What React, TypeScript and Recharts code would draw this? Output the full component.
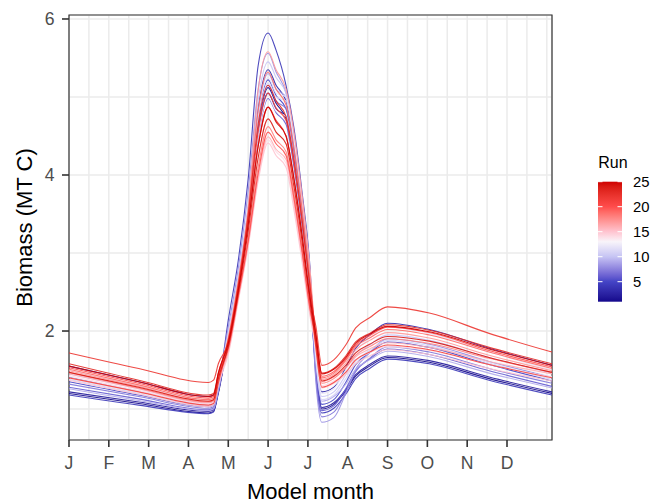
import React from 'react';
import { LineChart, Line, XAxis, YAxis, CartesianGrid, ReferenceArea, Label } from 'recharts';

// model month positions of the sampled points (0 = start of January)
const monthPos = [0, 1.75, 3.5, 3.63, 3.75, 4.0, 4.25, 4.5, 4.75, 5.0, 5.2, 5.45, 5.65, 5.85, 6.05, 6.2, 6.35, 6.65, 6.95, 7.2, 7.55, 8.0, 9.05, 10.55, 12.13];
const monthLabels = ['J', 'F', 'M', 'A', 'M', 'J', 'J', 'A', 'S', 'O', 'N', 'D'];
const xGridTicks = [0, 0.5, 1, 1.5, 2, 2.5, 3, 3.5, 4, 4.5, 5, 5.5, 6, 6.5, 7, 7.5, 8, 8.5, 9, 9.5, 10, 10.5, 11, 11.5, 12];
const yGridTicks = [1, 2, 3, 4, 5, 6];
const yLabelTicks = [2, 4, 6];
const legendTicks = [5, 10, 15, 20, 25];
const xDomain = [0, 12.13];
const yDomain = [0.603, 6.051];

// biomass per run (MT C)
const run01 = [1.20, 1.07, 0.95, 0.97, 1.20, 1.90, 2.60, 3.50, 4.62, 5.12, 4.92, 4.72, 4.17, 3.43, 2.57, 1.50, 1.00, 1.06, 1.23, 1.42, 1.55, 1.66, 1.60, 1.39, 1.20];
const run02 = [1.22, 1.09, 0.97, 0.99, 1.22, 1.90, 2.60, 3.50, 4.55, 5.05, 4.85, 4.75, 4.20, 3.45, 2.59, 1.52, 1.02, 1.08, 1.25, 1.44, 1.57, 1.68, 1.62, 1.41, 1.22];
const run03 = [1.55, 1.35, 1.16, 1.18, 1.41, 1.92, 2.62, 3.55, 4.85, 5.35, 5.15, 4.95, 4.40, 3.62, 2.71, 1.72, 1.22, 1.28, 1.53, 1.78, 1.95, 2.10, 2.02, 1.78, 1.56];
const run04 = [1.18, 1.05, 0.94, 0.96, 1.25, 2.14, 2.90, 3.95, 5.40, 5.82, 5.60, 5.15, 4.60, 3.79, 2.83, 1.45, 0.95, 1.01, 1.19, 1.39, 1.52, 1.64, 1.58, 1.37, 1.18];
const run05 = [1.35, 1.18, 1.03, 1.05, 1.28, 1.95, 2.65, 3.55, 4.72, 5.22, 5.02, 4.85, 4.30, 3.54, 2.65, 1.56, 1.06, 1.12, 1.34, 1.57, 1.72, 1.86, 1.79, 1.57, 1.36];
const run06 = [1.28, 1.13, 0.99, 1.01, 1.24, 1.88, 2.58, 3.45, 4.48, 4.98, 4.80, 4.65, 4.10, 3.37, 2.53, 1.48, 0.98, 1.04, 1.26, 1.49, 1.64, 1.77, 1.70, 1.49, 1.29];
const run07 = [1.32, 1.16, 1.01, 1.03, 1.26, 1.92, 2.62, 3.52, 4.65, 5.15, 4.95, 4.85, 4.30, 3.54, 2.65, 1.40, 0.90, 0.96, 1.22, 1.48, 1.65, 1.80, 1.73, 1.52, 1.33];
const run08 = [1.41, 1.23, 1.06, 1.08, 1.33, 2.05, 2.80, 3.80, 5.10, 5.56, 5.32, 5.05, 4.50, 3.71, 2.77, 1.35, 0.83, 0.89, 1.20, 1.51, 1.72, 1.90, 1.83, 1.61, 1.41];
const run09 = [1.26, 1.11, 0.98, 1.00, 1.23, 1.95, 2.66, 3.58, 4.80, 5.30, 5.10, 5.00, 4.45, 3.67, 2.74, 1.60, 1.10, 1.16, 1.32, 1.51, 1.63, 1.74, 1.67, 1.46, 1.27];
const run10 = [1.45, 1.26, 1.08, 1.10, 1.33, 1.98, 2.70, 3.62, 4.95, 5.45, 5.25, 5.05, 4.50, 3.71, 2.77, 1.66, 1.16, 1.22, 1.44, 1.67, 1.82, 1.95, 1.88, 1.66, 1.46];
const run11 = [1.38, 1.20, 1.04, 1.06, 1.29, 1.92, 2.62, 3.52, 4.68, 5.18, 5.00, 4.95, 4.40, 3.62, 2.71, 1.62, 1.12, 1.18, 1.39, 1.61, 1.75, 1.88, 1.81, 1.59, 1.38];
const run12 = [1.50, 1.30, 1.12, 1.14, 1.37, 1.95, 2.64, 3.55, 4.75, 5.25, 5.05, 5.00, 4.45, 3.67, 2.74, 1.70, 1.20, 1.26, 1.50, 1.74, 1.91, 2.05, 1.97, 1.73, 1.50];
const run13 = [1.42, 1.23, 1.06, 1.08, 1.33, 1.88, 2.58, 3.45, 4.50, 5.00, 4.82, 4.75, 4.20, 3.45, 2.59, 1.74, 1.24, 1.30, 1.48, 1.68, 1.80, 1.92, 1.85, 1.63, 1.42];
const run14 = [1.43, 1.24, 1.07, 1.09, 1.35, 1.72, 2.40, 3.10, 3.95, 4.45, 4.30, 4.15, 3.60, 2.94, 2.23, 1.80, 1.30, 1.36, 1.48, 1.62, 1.72, 1.80, 1.75, 1.57, 1.41];
const run15 = [1.37, 1.19, 1.03, 1.05, 1.31, 1.70, 2.38, 3.08, 3.92, 4.41, 4.25, 4.10, 3.55, 2.90, 2.20, 1.77, 1.27, 1.33, 1.44, 1.58, 1.68, 1.76, 1.70, 1.52, 1.36];
const run16 = [1.45, 1.26, 1.08, 1.10, 1.36, 1.74, 2.42, 3.12, 3.98, 4.49, 4.33, 4.20, 3.65, 2.99, 2.26, 1.85, 1.35, 1.41, 1.53, 1.67, 1.77, 1.85, 1.79, 1.61, 1.45];
const run17 = [1.49, 1.29, 1.10, 1.12, 1.40, 1.92, 2.64, 3.58, 5.08, 5.58, 5.35, 5.10, 4.55, 3.75, 2.80, 1.88, 1.38, 1.44, 1.59, 1.76, 1.88, 1.98, 1.91, 1.69, 1.49];
const run18 = [1.47, 1.27, 1.09, 1.11, 1.38, 1.76, 2.45, 3.18, 4.10, 4.62, 4.45, 4.30, 3.75, 3.07, 2.32, 1.83, 1.33, 1.39, 1.53, 1.69, 1.80, 1.90, 1.84, 1.65, 1.47];
const run19 = [1.51, 1.31, 1.12, 1.14, 1.42, 1.90, 2.62, 3.52, 4.82, 5.32, 5.10, 4.90, 4.35, 3.58, 2.68, 1.90, 1.40, 1.46, 1.62, 1.80, 1.91, 2.02, 1.95, 1.73, 1.52];
const run20 = [1.53, 1.33, 1.14, 1.16, 1.44, 1.78, 2.44, 3.15, 4.02, 4.55, 4.40, 4.25, 3.70, 3.03, 2.29, 1.92, 1.42, 1.48, 1.64, 1.82, 1.94, 2.05, 1.98, 1.75, 1.54];
const run21 = [1.40, 1.22, 1.05, 1.07, 1.33, 1.86, 2.56, 3.44, 4.55, 5.05, 4.86, 4.70, 4.15, 3.41, 2.56, 1.78, 1.28, 1.34, 1.47, 1.63, 1.73, 1.82, 1.76, 1.57, 1.40];
const run22 = [1.72, 1.52, 1.34, 1.37, 1.58, 1.85, 2.52, 3.38, 4.37, 4.87, 4.70, 4.50, 3.95, 3.24, 2.44, 2.06, 1.56, 1.63, 1.82, 2.04, 2.17, 2.31, 2.23, 1.97, 1.73];
const run23 = [1.58, 1.37, 1.18, 1.20, 1.46, 1.88, 2.58, 3.48, 4.65, 5.15, 4.95, 4.75, 4.20, 3.45, 2.59, 1.96, 1.46, 1.52, 1.68, 1.86, 1.97, 2.08, 2.01, 1.79, 1.58];
const run24 = [1.47, 1.28, 1.10, 1.12, 1.39, 1.80, 2.48, 3.28, 4.22, 4.72, 4.55, 4.40, 3.85, 3.16, 2.38, 1.86, 1.36, 1.42, 1.56, 1.72, 1.83, 1.93, 1.87, 1.66, 1.47];
const run25 = [1.55, 1.35, 1.16, 1.18, 1.46, 1.84, 2.52, 3.36, 4.37, 4.87, 4.68, 4.50, 3.95, 3.24, 2.44, 1.95, 1.45, 1.51, 1.66, 1.84, 1.96, 2.06, 1.99, 1.77, 1.56];

const runs = [run01, run02, run03, run04, run05, run06, run07, run08, run09, run10, run11, run12, run13,
  run14, run15, run16, run17, run18, run19, run20, run21, run22, run23, run24, run25];

const chartData = monthPos.map((m, i) => {
  const row: Record<string, number> = { m };
  runs.forEach((r, k) => { row[`r${k + 1}`] = r[i]; });
  return row;
});

// colour scale anchors, mixed in Lab between them
const RUN_MIN = 1;
const RUN_MAX = 25;
const scaleAt = [1, 5, 10, 13, 15, 20, 25];
const scaleColors = ['#14088C', '#4444C6', '#C6C4F4', '#F8F4FA', '#FFC4D0', '#FF4C4C', '#CF0000'];

const toLin = (c: number) => { const v = c / 255; return v <= 0.04045 ? v / 12.92 : Math.pow((v + 0.055) / 1.055, 2.4); };
const fromLin = (c: number) => {
  const v = c <= 0.0031308 ? 12.92 * c : 1.055 * Math.pow(c, 1 / 2.4) - 0.055;
  return Math.round(Math.max(0, Math.min(1, v)) * 255);
};
const hexToLab = (hex: string) => {
  const r = toLin(parseInt(hex.slice(1, 3), 16));
  const g = toLin(parseInt(hex.slice(3, 5), 16));
  const b = toLin(parseInt(hex.slice(5, 7), 16));
  const X = (0.4124 * r + 0.3576 * g + 0.1805 * b) / 0.95047;
  const Y = 0.2126 * r + 0.7152 * g + 0.0722 * b;
  const Z = (0.0193 * r + 0.1192 * g + 0.9505 * b) / 1.08883;
  const f = (t: number) => (t > 0.008856 ? Math.cbrt(t) : 7.787 * t + 16 / 116);
  return [116 * f(Y) - 16, 500 * (f(X) - f(Y)), 200 * (f(Y) - f(Z))];
};
const labToHex = ([L, a, bb]: number[]) => {
  const fy = (L + 16) / 116;
  const fx = fy + a / 500;
  const fz = fy - bb / 200;
  const inv = (t: number) => (t * t * t > 0.008856 ? t * t * t : (t - 16 / 116) / 7.787);
  const X = 0.95047 * inv(fx);
  const Y = inv(fy);
  const Z = 1.08883 * inv(fz);
  const r = 3.2406 * X - 1.5372 * Y - 0.4986 * Z;
  const g = -0.9689 * X + 1.8758 * Y + 0.0415 * Z;
  const b = 0.0557 * X - 0.204 * Y + 1.057 * Z;
  return '#' + [r, g, b].map((c) => fromLin(c).toString(16).padStart(2, '0')).join('');
};
const scaleLab = scaleColors.map(hexToLab);
const runColor = (v: number) => {
  let i = 0;
  while (i < scaleAt.length - 2 && v > scaleAt[i + 1]) i++;
  const t = (v - scaleAt[i]) / (scaleAt[i + 1] - scaleAt[i]);
  return labToHex(scaleLab[i].map((c, j) => c + (scaleLab[i + 1][j] - c) * t));
};

const FONT = '"Liberation Sans", Arial, Helvetica, sans-serif';
const TICK_SIZE = 7;
const X_TICK_MARGIN = 3;
const Y_TICK_MARGIN = 7;

const XTick = (props: any) => {
  const { x, y, payload } = props;
  const v = payload.value;
  if (!Number.isInteger(v) || v >= monthLabels.length) return null;
  const top = y - TICK_SIZE - X_TICK_MARGIN;
  return (
    <g>
      <line x1={x} x2={x} y1={top} y2={top + TICK_SIZE} stroke="#333333" strokeWidth={1.6} />
      <text x={x} y={top + 29.3} textAnchor="middle" fontFamily={FONT} fontSize={17.6} fill="#4D4D4D">
        {monthLabels[v]}
      </text>
    </g>
  );
};

const YTick = (props: any) => {
  const { x, y, payload } = props;
  const v = payload.value;
  if (!yLabelTicks.includes(v)) return null;
  const right = x + TICK_SIZE + Y_TICK_MARGIN;
  return (
    <g>
      <line x1={right - TICK_SIZE} x2={right} y1={y} y2={y} stroke="#333333" strokeWidth={1.6} />
      <text x={right - TICK_SIZE - 7.5} y={y + 6.3} textAnchor="end" fontFamily={FONT} fontSize={17.6} fill="#4D4D4D">
        {v}
      </text>
    </g>
  );
};

const ColorBar = () => {
  const barTop = 31.7;
  const barH = 120;
  const barX = 8;
  const barW = 24;
  const pos = (v: number) => barTop + ((RUN_MAX - v) / (RUN_MAX - RUN_MIN)) * barH;
  const stops = runs.map((_, k) => RUN_MAX - k);
  return (
    <svg width={78} height={170} style={{ position: 'absolute', left: 590, top: 150 }}>
      <defs>
        <linearGradient id="runGrad" x1="0" y1="0" x2="0" y2="1">
          {stops.map((v) => (
            <stop key={v} offset={(RUN_MAX - v) / (RUN_MAX - RUN_MIN)} stopColor={runColor(v)} />
          ))}
        </linearGradient>
      </defs>
      <text x={8.3} y={18.3} fontFamily={FONT} fontSize={16} fill="#000">Run</text>
      <rect x={barX} y={barTop} width={barW} height={barH} fill="url(#runGrad)" />
      {legendTicks.map((v) => (
        <g key={v}>
          <line x1={barX} x2={barX + 4.5} y1={pos(v)} y2={pos(v)} stroke="#fff" strokeWidth={1} />
          <line x1={barX + barW - 4.5} x2={barX + barW} y1={pos(v)} y2={pos(v)} stroke="#fff" strokeWidth={1} />
          <text x={43} y={pos(v) + 5.3} fontFamily={FONT} fontSize={14.8} fill="#000">{v}</text>
        </g>
      ))}
    </svg>
  );
};

export default function App() {
  return (
    <div style={{ position: 'absolute', left: 0, top: 0, width: 668, height: 502, background: '#fff' }}>
      <LineChart width={668} height={502} data={chartData} margin={{ top: 15, right: 116, bottom: 0, left: 0 }}>
        <CartesianGrid stroke="#EBEBEB" strokeWidth={1.5} />
        <XAxis
          dataKey="m"
          type="number"
          domain={xDomain}
          allowDataOverflow
          ticks={xGridTicks}
          interval={0}
          height={62}
          axisLine={false}
          tickLine={{ stroke: 'none' }}
          tickSize={TICK_SIZE}
          tickMargin={X_TICK_MARGIN}
          tick={(p: any) => <XTick {...p} />}
        >
          <Label
            content={(p: any) => (
              <text
                x={p.viewBox.x + p.viewBox.width / 2}
                y={p.viewBox.y + 58.5}
                textAnchor="middle"
                fontFamily={FONT}
                fontSize={22}
                fill="#000"
              >
                Model month
              </text>
            )}
          />
        </XAxis>
        <YAxis
          type="number"
          domain={yDomain}
          allowDataOverflow
          ticks={yGridTicks}
          interval={0}
          width={69}
          axisLine={false}
          tickLine={{ stroke: 'none' }}
          tickSize={TICK_SIZE}
          tickMargin={Y_TICK_MARGIN}
          tick={(p: any) => <YTick {...p} />}
        >
          <Label
            content={(p: any) => {
              const cx = 32;
              const cy = p.viewBox.y + p.viewBox.height / 2;
              return (
                <text
                  x={cx}
                  y={cy}
                  transform={`rotate(-90, ${cx}, ${cy})`}
                  textAnchor="middle"
                  fontFamily={FONT}
                  fontSize={22}
                  fill="#000"
                >
                  Biomass (MT C)
                </text>
              );
            }}
          />
        </YAxis>
        {runs.map((_, k) => (
          <Line
            key={k}
            dataKey={`r${k + 1}`}
            type="monotone"
            stroke={runColor(k + 1)}
            strokeWidth={1.1}
            strokeOpacity={0.9}
            dot={false}
            activeDot={false}
            isAnimationActive={false}
          />
        ))}
        <ReferenceArea
          x1={xDomain[0]}
          x2={xDomain[1]}
          y1={yDomain[0]}
          y2={yDomain[1]}
          fill="none"
          stroke="#333333"
          strokeWidth={1.2}
          ifOverflow="visible"
        />
      </LineChart>
      <ColorBar />
    </div>
  );
}
